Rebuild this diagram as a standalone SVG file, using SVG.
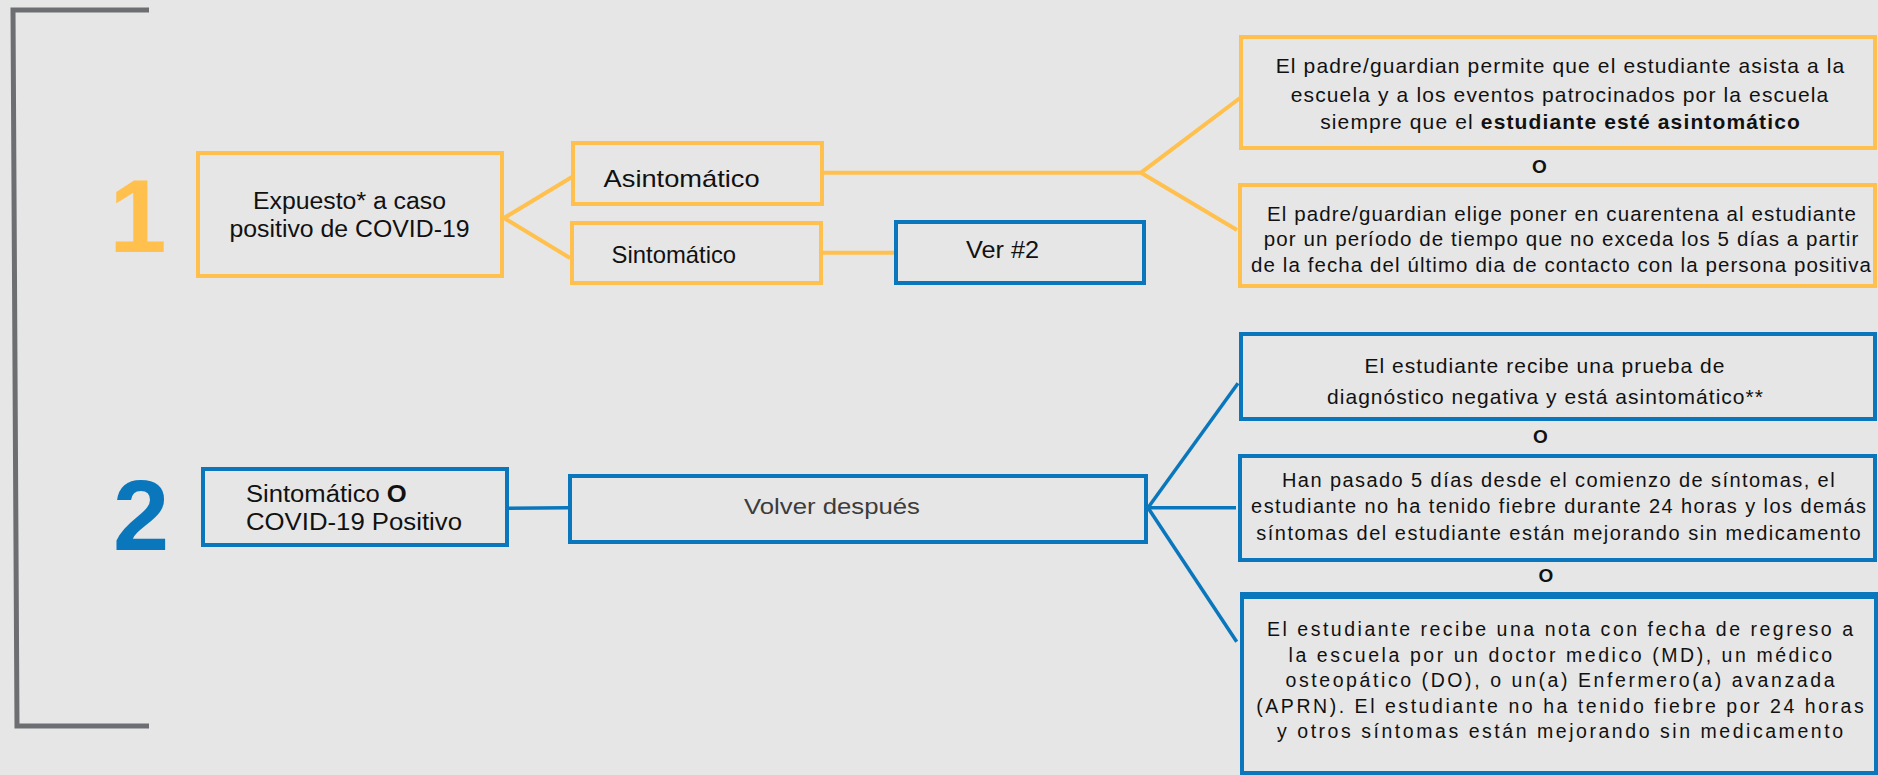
<svg xmlns="http://www.w3.org/2000/svg" width="1878" height="775" viewBox="0 0 1878 775">
<style>
.bg{fill:#E6E6E6}
.ob{fill:none;stroke:#FFC04D;stroke-width:4}
.bb{fill:none;stroke:#0A77BD;stroke-width:4}
.oc{fill:none;stroke:#FFC04D;stroke-width:4}
.bc{fill:none;stroke:#0A77BD;stroke-width:3.5}
.t{font-family:"Liberation Sans",Arial,Helvetica,sans-serif;fill:#111}
.c{text-anchor:middle}
.b{font-weight:bold}
</style>
<rect class="bg" x="0" y="0" width="1878" height="775"/>
<path d="M149,10 H13 L17,726 H149" fill="none" stroke="#6D6E71" stroke-width="5"/>
<text class="t b c" x="138" y="252" font-size="103" style="fill:#FFC04D">1</text>
<text class="t b c" x="141" y="550" font-size="101" style="fill:#0A77BD">2</text>
<g id="connectors">
<path class="oc" d="M504,218 L572,177"/>
<path class="oc" d="M504,218 L570,258"/>
<path class="oc" d="M824,172.7 H1141 L1240,98"/>
<path class="oc" d="M1141,172.7 L1237,230"/>
<path class="oc" d="M823,252.7 H894"/>
<path class="bc" d="M509,508.3 L568,507.7"/>
<path class="bc" d="M1148,507.7 L1238,383.3"/>
<path class="bc" d="M1148,507.7 H1236" stroke-width="4.5"/>
<path class="bc" d="M1148,507.7 L1236.7,641.7"/>
</g>
<g id="n-expuesto">
<rect class="ob" x="198" y="153" width="304" height="123"/>
<text class="t c" font-size="23" x="349.5" y="209.3" textLength="193" lengthAdjust="spacingAndGlyphs">Expuesto* a caso</text>
<text class="t c" font-size="23" x="349.5" y="237.3" textLength="240" lengthAdjust="spacingAndGlyphs">positivo de COVID-19</text>
</g>
<g id="n-asintomatico">
<rect class="ob" x="573" y="143" width="249" height="61"/>
<text class="t" font-size="24" x="603.6" y="186.7" textLength="156" lengthAdjust="spacingAndGlyphs">Asintomático</text>
</g>
<g id="n-sintomatico">
<rect class="ob" x="572" y="223" width="249" height="60"/>
<text class="t" font-size="24" x="611.6" y="262.7" textLength="124.5" lengthAdjust="spacingAndGlyphs">Sintomático</text>
</g>
<g id="n-ver2">
<rect class="bb" x="896" y="222" width="248" height="61"/>
<text class="t" font-size="24" x="966" y="258.3" textLength="73" lengthAdjust="spacingAndGlyphs">Ver #2</text>
</g>
<g id="n-permite">
<rect class="ob" x="1241" y="37" width="634" height="111"/>
<text class="t c" font-size="21" x="1560" y="72.7" textLength="568.6">El padre/guardian permite que el estudiante asista a la</text>
<text class="t c" font-size="21" x="1559.5" y="101.7" textLength="537.5">escuela y a los eventos patrocinados por la escuela</text>
<text class="t c" font-size="21" x="1560" y="129.3" textLength="479.7">siempre que el <tspan class="b">estudiante esté asintomático</tspan></text>
</g>
<text class="t b c" font-size="19" x="1539.4" y="172.7">O</text>
<g id="n-cuarentena">
<rect class="ob" x="1240" y="185" width="635" height="101"/>
<text class="t c" font-size="20.5" x="1561.5" y="220.7" textLength="589">El padre/guardian elige poner en cuarentena al estudiante</text>
<text class="t c" font-size="20.5" x="1561" y="246.3" textLength="594.5">por un período de tiempo que no exceda los 5 días a partir</text>
<text class="t c" font-size="20.5" x="1561" y="271.7" textLength="620">de la fecha del último dia de contacto con la persona positiva</text>
</g>
<g id="n-sintomatico-positivo">
<rect class="bb" x="203" y="469" width="304" height="76"/>
<text class="t" font-size="23" x="246" y="501.7" textLength="160.8" lengthAdjust="spacingAndGlyphs">Sintomático <tspan class="b">O</tspan></text>
<text class="t" font-size="23" x="246" y="530" textLength="216" lengthAdjust="spacingAndGlyphs">COVID-19 Positivo</text>
</g>
<g id="n-volver">
<rect class="bb" x="570" y="476" width="576" height="66"/>
<text class="t" font-size="22.5" x="744" y="514.3" textLength="176" lengthAdjust="spacingAndGlyphs" style="fill:#3C3C3C">Volver después</text>
</g>
<g id="n-prueba">
<rect class="bb" x="1241" y="334" width="634" height="85"/>
<text class="t c" font-size="21" x="1544.4" y="372.7" textLength="360">El estudiante recibe una prueba de</text>
<text class="t c" font-size="21" x="1545" y="404.3" textLength="436">diagnóstico negativa y está asintomático**</text>
</g>
<text class="t b c" font-size="19" x="1540.3" y="443.3">O</text>
<g id="n-cinco-dias">
<rect class="bb" x="1240" y="456" width="635" height="104"/>
<text class="t c" font-size="20" x="1558.3" y="486.7" textLength="552.6">Han pasado 5 días desde el comienzo de síntomas, el</text>
<text class="t c" font-size="20" x="1558.6" y="513.3" textLength="615">estudiante no ha tenido fiebre durante 24 horas y los demás</text>
<text class="t c" font-size="20" x="1558.4" y="540" textLength="604.5">síntomas del estudiante están mejorando sin medicamento</text>
</g>
<text class="t b c" font-size="19" x="1546" y="581.7">O</text>
<g id="n-nota">
<rect class="bb" x="1242" y="595" width="634" height="178" stroke-width="5"/>
<path d="M1240,595.5 H1878" stroke="#0A77BD" stroke-width="7"/>
<text class="t c" font-size="19.5" x="1560" y="636" textLength="586">El estudiante recibe una nota con fecha de regreso a</text>
<text class="t c" font-size="19.5" x="1560.3" y="661.7" textLength="543.5">la escuela por un doctor medico (MD), un médico</text>
<text class="t c" font-size="19.5" x="1560" y="686.7" textLength="549">osteopático (DO), o un(a) Enfermero(a) avanzada</text>
<text class="t c" font-size="19.5" x="1560" y="713.3" textLength="607.5">(APRN). El estudiante no ha tenido fiebre por 24 horas</text>
<text class="t c" font-size="19.5" x="1560" y="738.3" textLength="566">y otros síntomas están mejorando sin medicamento</text>
</g>
</svg>
